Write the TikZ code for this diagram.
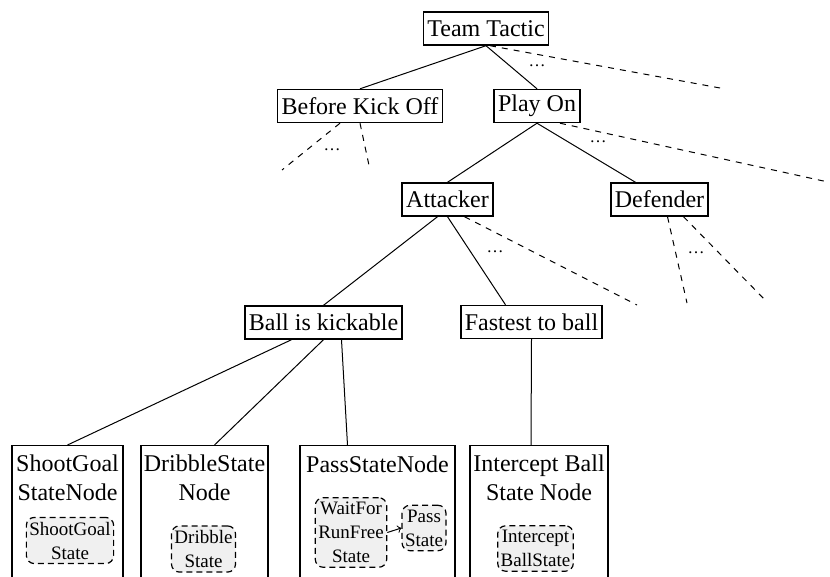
\documentclass[tikz,border=0pt]{standalone}
\usepackage{fontspec}
\setmainfont{Liberation Serif}
\begin{document}
\begin{tikzpicture}[x=0.5pt,y=-0.5pt]
	% Styles (MODIFIABLES)
	\tikzstyle{trait}=[-,line width=0.5pt]
	\tikzstyle{pointille}=[-,line width=0.5pt,dashed]
	\tikzstyle{boite}=[draw,line width=0.7pt,inner xsep=2pt,inner ysep=0pt,minimum height=16.5pt,font=\fontsize{12}{14}\selectfont]
	\tikzstyle{grandeboite}=[draw,line width=0.7pt,anchor=north,minimum height=80pt]
	\tikzstyle{titre}=[align=center,inner sep=0pt,font=\fontsize{12}{14.5}\selectfont]
	\tikzstyle{etat}=[draw,dash pattern=on 3pt off 2pt,line width=0.6pt,rounded corners=4pt,fill=gray!12,align=center,inner xsep=1.5pt,inner ysep=2.2pt,font=\fontsize{9.5}{12}\selectfont]
	\tikzstyle{points}=[inner sep=0pt,font=\fontsize{8.5}{9}\selectfont]
	% Dimensions (MODIFIABLES)
	\def\NiveauFeuilles{445}
	\def\NiveauTitres{478}
	% Cadre
	\useasboundingbox (0,0) rectangle (830,577);
	\clip (0,0) rectangle (830,577);
	% Noeuds
	\node[boite] (TT) at (486,28.5) {Team Tactic};
	\node[boite] (BKO) at (360,106) {Before Kick Off};
	\node[boite] (PO) at (537,106) {Play On};
	\node[boite] (Att) at (447.5,199.5) {Attacker};
	\node[boite] (Def) at (659.5,199.5) {Defender};
	\node[boite] (BK) at (323.5,322.5) {Ball is kickable};
	\node[boite] (Fast) at (531.5,322) {Fastest to ball};
	% Feuilles
	\node[grandeboite,minimum width=55.5pt] (SG) at (67.5,\NiveauFeuilles) {};
	\node[grandeboite,minimum width=63.5pt] (DR) at (204.5,\NiveauFeuilles) {};
	\node[grandeboite,minimum width=77.5pt] (PS) at (377.5,\NiveauFeuilles) {};
	\node[grandeboite,minimum width=69pt] (IC) at (539,\NiveauFeuilles) {};
	%
	\node[titre] (SGt) at (67.5,\NiveauTitres) {ShootGoal\\StateNode};
	\node[titre] (DRt) at (204.5,\NiveauTitres) {DribbleState\\Node};
	\node[titre] (PSt) at (377.5,\NiveauTitres-14) {PassStateNode};
	\node[titre] (ICt) at (539,\NiveauTitres) {Intercept Ball\\State Node};
	% Etats
	\node[etat] (SGe) at (70,540.5) {ShootGoal\\State};
	\node[etat] (DRe) at (203.5,549) {Dribble\\State};
	\node[etat] (PSa) at (351,532.5) {WaitFor\\RunFree\\State};
	\node[etat] (PSb) at (424,528) {Pass\\State};
	\node[etat] (ICe) at (535.5,548.5) {Intercept\\BallState};
	% Extremites libres
	\coordinate (c1) at (720,88);
	\coordinate (c2) at (282,170);
	\coordinate (c3) at (370,170);
	\coordinate (c4) at (828,182);
	\coordinate (c5) at (637,305);
	\coordinate (c6) at (687,303);
	\coordinate (c7) at (767,302);
	% Points de suspension
	\node[points] (p1) at (537,66) {\ldots};
	\node[points] (p2) at (332,150) {\ldots};
	\node[points] (p3) at (598,142) {\ldots};
	\node[points] (p4) at (495,252) {\ldots};
	\node[points] (p5) at (696,253) {\ldots};
	% Arcs
	\draw[trait] (TT.south) -- (BKO.north);
	\draw[trait] (TT.south) -- (PO.north);
	\draw[pointille] ([xshift=2pt]TT.south) -- (c1);
	\draw[pointille] ([xshift=-10pt]BKO.south) -- (c2);
	\draw[pointille] (BKO.south) -- (c3);
	\draw[trait] (PO.south) -- (Att.north);
	\draw[trait] (PO.south) -- ([xshift=-12pt]Def.north);
	\draw[pointille] ([xshift=11.5pt]PO.south) -- (c4);
	\draw[trait] ([xshift=-5pt]Att.south) -- (BK.north);
	\draw[trait] (Att.south) -- ([xshift=-13pt]Fast.north);
	\draw[pointille] ([xshift=8.5pt]Att.south) -- (c5);
	\draw[pointille] ([xshift=4pt]Def.south) -- (c6);
	\draw[pointille] ([xshift=12pt]Def.south) -- (c7);
	\draw[trait] ([xshift=-16pt]BK.south) -- (SG.north);
	\draw[trait] (BK.south) -- ([xshift=5pt]DR.north);
	\draw[trait] ([xshift=9pt]BK.south) -- ([xshift=-15pt]PS.north);
	\draw[trait] (Fast.south) -- ([xshift=-4pt]IC.north);
	\draw[trait,->] (PSa.east) -- (PSb.west);
\end{tikzpicture}
\end{document}
